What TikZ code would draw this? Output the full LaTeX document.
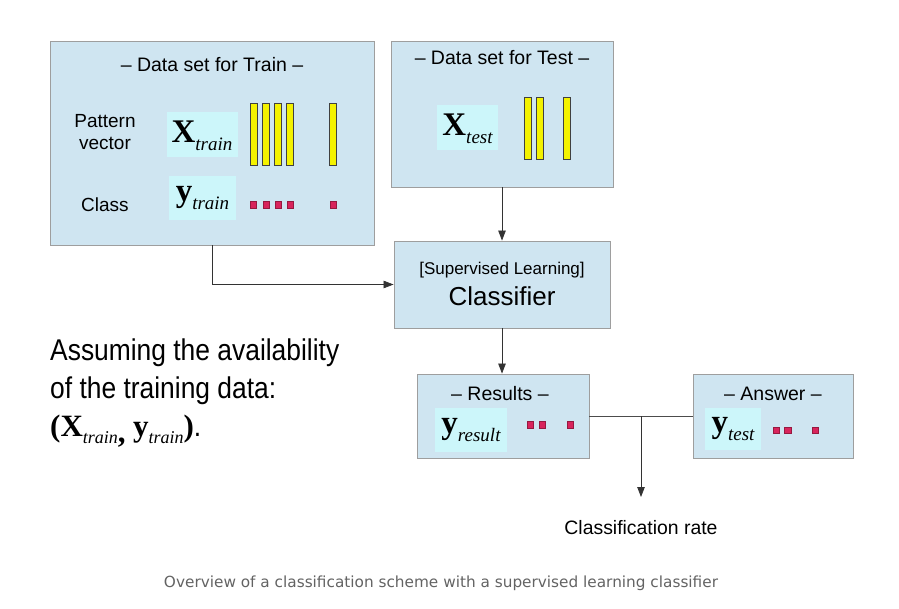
\documentclass[tikz,border=0pt]{standalone}
\usepackage{fontspec}
\setmainfont{Liberation Sans}
\newfontfamily\seriffam{Liberation Serif}
\newfontfamily\narrowfam[FakeStretch=0.88]{Liberation Sans}
\newfontfamily\capfam{DejaVu Sans}
\usetikzlibrary{arrows.meta,calc}
\definecolor{boxfill}{HTML}{CFE5F1}
\definecolor{boxline}{HTML}{9E9E9E}
\definecolor{hilite}{HTML}{CCF6FA}
\definecolor{barfill}{HTML}{F4F200}
\definecolor{sqfill}{HTML}{D8245C}
\definecolor{capgray}{HTML}{636363}
\newcommand{\vlab}[4]{{\seriffam\fontsize{#1}{#1}\selectfont\bfseries #3}{\seriffam\fontsize{#2}{#2}\selectfont\itshape\raisebox{-0.4em}{#4}}}
\tikzset{
  panel/.style={draw=boxline, fill=boxfill, line width=0.9pt, minimum width=#1, inner sep=0pt},
  hl/.style={fill=hilite, inner sep=0pt},
  barbox/.style={draw=black!75, fill=barfill, line width=0.7pt, minimum width=7pt, minimum height=#1, inner sep=0pt},
  sqbox/.style={draw=sqfill!70!black, fill=sqfill, line width=0.5pt, minimum size=6.5pt, inner sep=0pt},
  title/.style={font=\fontsize{19.5}{19.5}\selectfont, inner sep=0pt},
  lab/.style={font=\fontsize{19}{22}\selectfont, inner sep=0pt, align=center},
  arr/.style={draw=black!80, line width=0.8pt, -{Triangle[length=10pt,width=7.5pt]}},
  conn/.style={draw=black!70, line width=0.8pt},
  bigtext/.style={inner sep=0pt, anchor=base west, font=\narrowfam\fontsize{30}{30}\selectfont},
}
\begin{document}
\begin{tikzpicture}[x=1pt,y=-1pt]
\useasboundingbox (0,0) rectangle (899,608);
% train
\node[panel=324pt, minimum height=204pt] (train) at (212,143) {};
\node[title] (traint) at (212,65) {– Data set for Train –};
\node[lab] (pv) at (105,132) {Pattern\\vector};
\node[lab] (cls) at (105,205) {Class};
\node[hl, minimum width=71pt, minimum height=45pt] (xtrh) at (202,134.5) {};
\node[inner sep=0pt] (xtr) at (202,136) {\vlab{33}{19}{X}{train}};
\node[hl, minimum width=67pt, minimum height=44pt] (ytrh) at (202.5,198) {};
\node[inner sep=0pt] (ytr) at (202.5,198) {\vlab{33}{19}{y}{train}};
\foreach \x [count=\i] in {253.5,265.5,277.5,290,332.5}
  \node[barbox=62pt] (trb\i) at (\x,134) {};
\foreach \x [count=\i] in {253,266,278,290,333}
  \node[sqbox] (trs\i) at (\x,204.5) {};
% test
\node[panel=222pt, minimum height=146pt] (test) at (502,114) {};
\node[title] (testt) at (502,58) {– Data set for Test –};
\node[hl, minimum width=61pt, minimum height=45pt] (xteh) at (467.5,127.5) {};
\node[inner sep=0pt] (xte) at (467.5,129) {\vlab{33}{19}{X}{test}};
\foreach \x [count=\i] in {527.5,539.5,566.5}
  \node[barbox=62pt] (teb\i) at (\x,128) {};
% classifier
\node[panel=216pt, minimum height=87pt] (clf) at (502,284.5) {};
\node[inner sep=0pt, font=\fontsize{17}{17}\selectfont] (clft) at (502,270) {[Supervised Learning]};
\node[inner sep=0pt, font=\fontsize{26}{26}\selectfont] (clfc) at (502,296) {Classifier};
% results
\node[panel=172pt, minimum height=84pt] (res) at (503,416) {};
\node[title] (rest) at (500,394) {– Results –};
\node[hl, minimum width=72pt, minimum height=44pt] (yreh) at (471,430) {};
\node[inner sep=0pt] (yre) at (471,430) {\vlab{33}{19}{y}{result}};
\foreach \x [count=\i] in {530,542,570}
  \node[sqbox] (ress\i) at (\x,424.5) {};
% answer
\node[panel=160pt, minimum height=84pt] (ans) at (773,416) {};
\node[title] (anst) at (773,394) {– Answer –};
\node[hl, minimum width=56pt, minimum height=42pt] (ytsh) at (733,429) {};
\node[inner sep=0pt] (yts) at (733,429) {\vlab{33}{19}{y}{test}};
\foreach \x [count=\i] in {776,787.5,815}
  \node[sqbox] (anss\i) at (\x,430) {};
% connectors
\draw[arr] (test.south) -- (clf.north);
\draw[arr] (train.south) |- (clf.west);
\draw[arr] (clf.south) -- (clf.south |- res.north);
\draw[conn] (res.east) -- (ans.west);
\coordinate (mid) at ($(res.east)!0.5!(ans.west)$);
\coordinate (rateend) at (641,497);
\draw[arr] (mid) -- (mid |- rateend);
\node[inner sep=0pt, font=\fontsize{19.4}{19.4}\selectfont] (rate) at (641,528) {Classification rate};
% left text
\node[bigtext] (assume1) at (50,360) {Assuming the availability};
\node[bigtext] (assume2) at (50,398) {of the training data:};
\node[bigtext] (assume3) at (50,436) {{\seriffam\bfseries\fontsize{31}{31}\selectfont(}\vlab{31}{18}{X}{train}{\seriffam\bfseries\fontsize{31}{31}\selectfont\raisebox{-0.2em}{,}} \vlab{31}{18}{y}{train}{\seriffam\bfseries\fontsize{31}{31}\selectfont )}.};
% caption
\node[inner sep=0pt, text=capgray, font=\capfam\fontsize{15.3}{15.3}\selectfont] (cap) at (441,583) {Overview of a classification scheme with a supervised learning classifier};
\end{tikzpicture}
\end{document}
